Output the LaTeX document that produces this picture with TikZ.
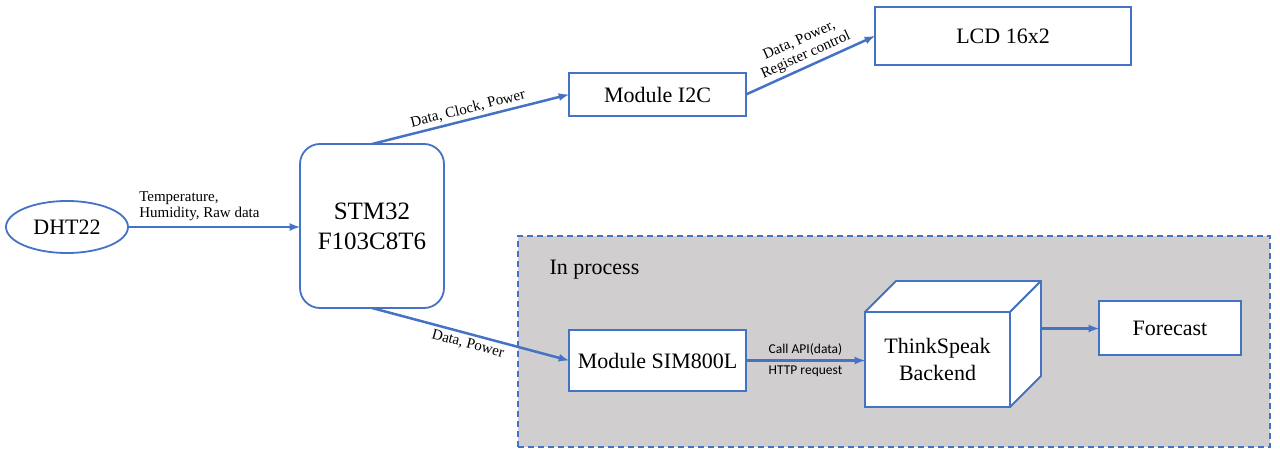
\documentclass[tikz,border=0pt]{standalone}
\usepackage{fontspec}
\setmainfont{Liberation Serif}
\newfontfamily\lblsans{Carlito}
\usepackage{tikz}
\usetikzlibrary{arrows,shapes.geometric}
\definecolor{linkblue}{RGB}{68,114,196}
\definecolor{procgray}{RGB}{208,206,206}

\begin{document}
\begin{tikzpicture}[x=1pt,y=-1pt,
    blk/.style={draw=linkblue,line width=1.8pt,fill=white,outer sep=0pt,inner sep=2pt,
      font=\fontsize{22}{27}\selectfont},
    link/.style={draw=linkblue,line width=2.5pt,-latex},
    lbl/.style={font=\fontsize{15}{16}\selectfont,inner sep=3pt},
    sanslbl/.style={font=\lblsans\fontsize{13.5}{15}\selectfont,inner sep=4pt}]
  \useasboundingbox (0,0) rectangle (1280,462);
  % in process region
  \node[draw=linkblue,line width=1.5pt,dash pattern=on 6pt off 4pt,fill=procgray,
    minimum width=752pt,minimum height=211pt,outer sep=0pt](proc)at(894,341.5){};
  \node[anchor=west,font=\fontsize{22}{25}\selectfont](proclbl)at(546,270){In process};
  % blocks
  \node[blk,ellipse,minimum width=122pt,minimum height=52pt](dht)at(67,227){DHT22};
  \node[blk,rounded corners=20pt,minimum width=144pt,minimum height=164pt,align=center,
    font=\fontsize{25}{30}\selectfont](stm)at(372,226){STM32\\F103C8T6};
  \node[blk,minimum width=177pt,minimum height=43pt](i2c)at(657.5,94.5){Module I2C};
  \node[blk,minimum width=256pt,minimum height=58pt](lcd)at(1003,36){LCD 16x2};
  \node[blk,minimum width=177pt,minimum height=61pt](sim)at(657.5,360.5){Module SIM800L};
  \node[blk,minimum width=145pt,minimum height=95pt,align=center](tsb)at(937.5,359.5){ThinkSpeak\\Backend};
  \draw[draw=linkblue,line width=1.8pt,fill=white,line join=round]
    (tsb.north west) -- ++(31,-31) -- ++(145,0) -- (tsb.north east) -- cycle;
  \draw[draw=linkblue,line width=1.8pt,fill=white,line join=round]
    (tsb.north east) -- ++(31,-31) -- ++(0,95) -- (tsb.south east) -- cycle;
  \coordinate (tsbside) at ([shift={(31,-31)}]tsb.east);
  \node[blk,minimum width=142pt,minimum height=54pt](fc)at(1170,328){Forecast};
  % connectors
  \draw[link] (dht.east) -- (dht.east -| stm.west)
    node[pos=0,anchor=south west,xshift=7pt,yshift=2pt,lbl,align=left]{Temperature,\\Humidity, Raw data};
  \draw[link] (stm.north) -- (i2c.west) node[midway,sloped,above,lbl]{Data, Clock, Power};
  \draw[link] (i2c.east) -- (lcd.west) node[midway,sloped,above,lbl,align=center]{Data, Power,\\Register control};
  \draw[link] (stm.south) -- (sim.west) node[midway,sloped,below,lbl]{Data, Power};
  \draw[link] (sim.east) -- (sim.east -| tsb.west)
    node[midway,above,sanslbl]{Call API(data)}
    node[midway,below,sanslbl]{HTTP request};
  \draw[link] (tsbside) -- (tsbside -| fc.west);
\end{tikzpicture}
\end{document}
